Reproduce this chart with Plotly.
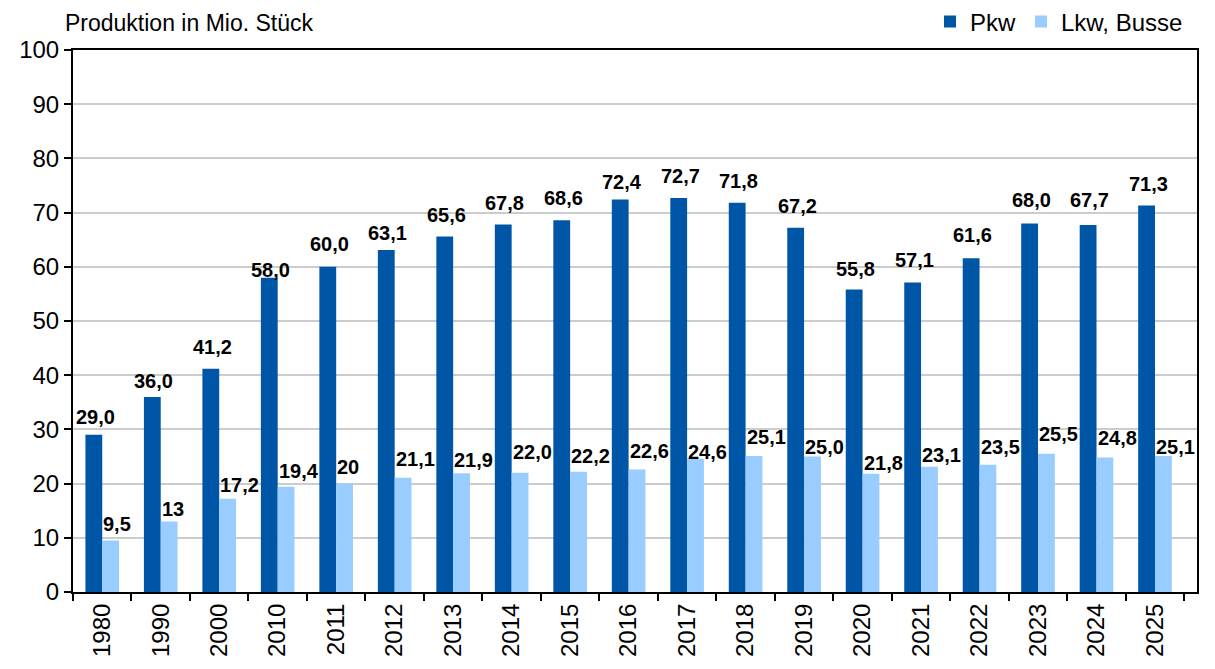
import plotly.graph_objects as go

years = ["1980", "1990", "2000", "2010", "2011", "2012", "2013", "2014", "2015", "2016",
         "2017", "2018", "2019", "2020", "2021", "2022", "2023", "2024", "2025"]
pkw = [29.0, 36.0, 41.2, 58.0, 60.0, 63.1, 65.6, 67.8, 68.6, 72.4,
       72.7, 71.8, 67.2, 55.8, 57.1, 61.6, 68.0, 67.7, 71.3]
lkw = [9.5, 13, 17.2, 19.4, 20, 21.1, 21.9, 22.0, 22.2, 22.6,
       24.6, 25.1, 25.0, 21.8, 23.1, 23.5, 25.5, 24.8, 25.1]
pkw_text = ["29,0", "36,0", "41,2", "58,0", "60,0", "63,1", "65,6", "67,8", "68,6", "72,4",
            "72,7", "71,8", "67,2", "55,8", "57,1", "61,6", "68,0", "67,7", "71,3"]
lkw_text = ["9,5", "13", "17,2", "19,4", "20", "21,1", "21,9", "22,0", "22,2", "22,6",
            "24,6", "25,1", "25,0", "21,8", "23,1", "23,5", "25,5", "24,8", "25,1"]

# label placement (pixels above bar top, to label centre)
pkw_dy = [18, 16, 22, 8, 23, 17, 21, 22, 22, 18, 22, 22, 22, 21, 23, 23, 23, 25, 22]
lkw_dy = [17, 13, 14, 16, 17, 19, 13, 21, 16, 19, 7, 19, 10, 11, 12, 18, 20, 20, 9]

DARK = "#0056a6"
LIGHT = "#99ccff"
FONT = "Liberation Sans, Arial, sans-serif"

fig = go.Figure()
fig.add_trace(go.Bar(name="Pkw", x=years, y=pkw, marker=dict(color=DARK, line=dict(width=0))))
fig.add_trace(go.Bar(name="Lkw, Busse", x=years, y=lkw, marker=dict(color=LIGHT, line=dict(width=0))))

anns = []
for i, yr in enumerate(years):
    anns.append(dict(x=i, y=pkw[i], xref="x", yref="y", text=pkw_text[i], showarrow=False,
                     xanchor="center", yanchor="middle", xshift=-7, yshift=pkw_dy[i],
                     font=dict(family=FONT, size=20, color="black", weight="bold")))
    anns.append(dict(x=i, y=lkw[i], xref="x", yref="y", text=lkw_text[i], showarrow=False,
                     xanchor="left", yanchor="middle", xshift=-1, yshift=lkw_dy[i],
                     font=dict(family=FONT, size=20, color="black", weight="bold")))
anns.append(dict(x=0, y=1, xref="paper", yref="paper", xanchor="left", yanchor="middle",
                 xshift=-9, yshift=27, text="Produktion in Mio. Stück", showarrow=False,
                 borderpad=0, font=dict(family=FONT, size=23, color="black")))

# page body has an 8px margin, so the figure is sized/offset to compensate
fig.update_layout(
    width=1207, height=661,
    margin=dict(l=65, r=18, t=42, b=77, autoexpand=False),
    paper_bgcolor="white", plot_bgcolor="white",
    barmode="group", bargap=0.425, bargroupgap=0,
    font=dict(family=FONT, size=24, color="black"),
    showlegend=True,
    legend=dict(orientation="h", x=0.992, xanchor="right", y=1.052, yanchor="middle",
                font=dict(family=FONT, size=24, color="black"), traceorder="normal",
                itemwidth=30, bgcolor="rgba(0,0,0,0)"),
    annotations=anns,
    xaxis=dict(type="category", tickangle=-90, ticks="outside", tickson="boundaries",
               ticklen=7, tickwidth=1.5, tickcolor="black",
               showline=True, linecolor="black", linewidth=2, mirror=True,
               showgrid=False, tickfont=dict(family=FONT, size=24)),
    yaxis=dict(range=[0, 100], dtick=10, ticks="outside", ticklen=7, tickwidth=1.5,
               tickcolor="black", showline=True, linecolor="black", linewidth=2, mirror=True,
               showgrid=True, gridcolor="#cccccc", gridwidth=2, zeroline=False,
               tickfont=dict(family=FONT, size=24)),
)

fig.write_html("out.html")
